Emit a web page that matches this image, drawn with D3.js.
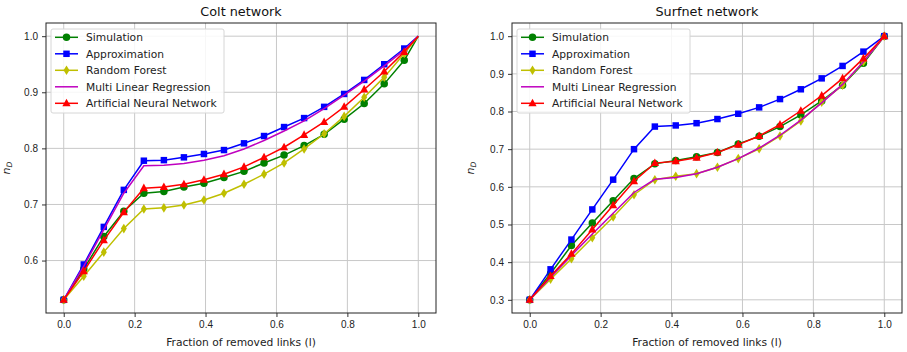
<!DOCTYPE html>
<html>
<head>
<meta charset="utf-8">
<script src="https://cdn.jsdelivr.net/npm/d3@7"></script>
<style>
  body { margin: 0; background: #fff; }
  svg { display: block; font-family: "DejaVu Sans", sans-serif; }
  .tick line { stroke: #333; }
  .tick text { fill: #222; font-size: 10px; }
  .domain { display: none; }
</style>
</head>
<body>
<svg id="chart" width="907" height="352"></svg>
<script>
// Colt network: points every 10 links of 177, last point at 1.0 (no marker)
const coltX = [0, 0.0565, 0.113, 0.1695, 0.226, 0.2825, 0.339, 0.3955, 0.452, 0.5085,
  0.565, 0.6215, 0.678, 0.7345, 0.791, 0.8475, 0.904, 0.9605, 1.0];
const coltSim = [0.53, 0.585, 0.643, 0.688, 0.720, 0.723, 0.731, 0.738, 0.748, 0.759,
  0.774, 0.788, 0.805, 0.825, 0.852, 0.880, 0.915, 0.957, 1.0];
const coltApprox = [0.53, 0.593, 0.660, 0.726, 0.778, 0.779, 0.784, 0.790, 0.797, 0.809,
  0.822, 0.838, 0.854, 0.874, 0.897, 0.922, 0.950, 0.978, 1.0];
const coltRF = [0.53, 0.572, 0.615, 0.657, 0.692, 0.694, 0.699, 0.708, 0.720, 0.736,
  0.754, 0.774, 0.799, 0.826, 0.857, 0.891, 0.927, 0.969, 1.0];
const coltMLR = [0.53, 0.590, 0.655, 0.720, 0.769, 0.770, 0.773, 0.779, 0.787, 0.799,
  0.814, 0.831, 0.849, 0.871, 0.895, 0.920, 0.947, 0.975, 1.0];
const coltANN = [0.53, 0.581, 0.636, 0.686, 0.729, 0.731, 0.736, 0.744, 0.754, 0.767,
  0.784, 0.802, 0.824, 0.847, 0.874, 0.905, 0.937, 0.972, 1.0];

// Surfnet network: k/17
const surfX = [0, 0.0588, 0.1176, 0.1765, 0.2353, 0.2941, 0.3529, 0.4118, 0.4706,
  0.5294, 0.5882, 0.6471, 0.7059, 0.7647, 0.8235, 0.8824, 0.9412, 1.0];
const surfSim = [0.30, 0.370, 0.444, 0.504, 0.563, 0.622, 0.661, 0.670, 0.680,
  0.691, 0.714, 0.734, 0.760, 0.791, 0.828, 0.870, 0.928, 1.0];
const surfApprox = [0.30, 0.381, 0.460, 0.540, 0.619, 0.700, 0.760, 0.763, 0.769,
  0.780, 0.794, 0.811, 0.833, 0.859, 0.888, 0.921, 0.959, 1.0];
const surfRF = [0.30, 0.355, 0.409, 0.465, 0.520, 0.579, 0.619, 0.628, 0.635,
  0.652, 0.675, 0.701, 0.735, 0.775, 0.825, 0.870, 0.932, 1.0];
const surfMLR = [0.30, 0.360, 0.418, 0.475, 0.530, 0.585, 0.620, 0.625, 0.635,
  0.652, 0.675, 0.703, 0.737, 0.777, 0.823, 0.872, 0.932, 1.0];
const surfANN = [0.30, 0.363, 0.422, 0.487, 0.551, 0.615, 0.663, 0.668, 0.677,
  0.691, 0.712, 0.735, 0.765, 0.802, 0.842, 0.888, 0.941, 1.0];

const seriesNames = ['Simulation', 'Approximation', 'Random Forest', 'Multi Linear Regression', 'Artificial Neural Network'];
const seriesColors = ['#008000', '#0000ff', '#bfbf00', '#bf00bf', '#ff0000'];
const seriesMarkers = ['circle', 'square', 'diamond', null, 'triangle'];
const xTicks = [0, 0.2, 0.4, 0.6, 0.8, 1.0];
const coltYTicks = [0.6, 0.7, 0.8, 0.9, 1.0];
const surfYTicks = [0.3, 0.4, 0.5, 0.6, 0.7, 0.8, 0.9, 1.0];

const svg = d3.select('#chart');

const markerPath = type => {
  if (type === 'circle') return d3.symbol(d3.symbolCircle, 44)();
  if (type === 'square') return d3.symbol(d3.symbolSquare, 42)();
  if (type === 'triangle') return 'M0,-4.6L4.1,3L-4.1,3Z';
  if (type === 'diamond') return 'M0,-4.8L3,0L0,4.8L-3,0Z';
  return null;
};

const drawPanel = (opt) => {
  const { left, top, width, height } = opt;
  const g = svg.append('g').attr('transform', `translate(${left},${top})`);

  const x = d3.scaleLinear().domain([-0.05, 1.05]).range([0, width]);
  const yMin = opt.yMin, yMax = 1.0, pad = (yMax - yMin) * 0.05;
  const y = d3.scaleLinear().domain([yMin - pad, yMax + pad]).range([height, 0]);

  // grid
  g.append('g').selectAll('line').data(xTicks).enter().append('line')
    .attr('x1', d => x(d)).attr('x2', d => x(d)).attr('y1', 0).attr('y2', height)
    .attr('stroke', '#c8c8c8').attr('stroke-width', 1);
  g.append('g').selectAll('line').data(opt.yTicks).enter().append('line')
    .attr('y1', d => y(d)).attr('y2', d => y(d)).attr('x1', 0).attr('x2', width)
    .attr('stroke', '#c8c8c8').attr('stroke-width', 1);

  // axes
  g.append('g').attr('transform', `translate(0,${height})`)
    .call(d3.axisBottom(x).tickValues(xTicks).tickSize(4).tickPadding(4).tickFormat(d3.format('.1f')));
  g.append('g')
    .call(d3.axisLeft(y).tickValues(opt.yTicks).tickSize(4).tickPadding(4).tickFormat(d3.format('.1f')));

  // series
  const line = d3.line().x(d => x(d[0])).y(d => y(d[1]));
  opt.series.forEach((vals, i) => {
    const pts = opt.xs.map((xv, j) => [xv, vals[j]]);
    g.append('path').datum(pts)
      .attr('d', line).attr('fill', 'none')
      .attr('stroke', seriesColors[i]).attr('stroke-width', 1.5);
    const mk = markerPath(seriesMarkers[i]);
    if (mk) {
      const mpts = opt.markLast ? pts : pts.slice(0, -1);
      g.append('g').selectAll('path').data(mpts).enter().append('path')
        .attr('d', mk)
        .attr('transform', d => `translate(${x(d[0])},${y(d[1])})`)
        .attr('fill', seriesColors[i]);
    }
  });

  // frame
  g.append('rect').attr('width', width).attr('height', height)
    .attr('fill', 'none').attr('stroke', '#222').attr('stroke-width', 1);

  // title and labels
  g.append('text').attr('x', width / 2).attr('y', -7).attr('text-anchor', 'middle')
    .attr('font-size', '12.8px').attr('fill', '#111').text(opt.title);
  g.append('text').attr('x', width / 2).attr('y', height + 33).attr('text-anchor', 'middle')
    .attr('font-size', '10.7px').attr('fill', '#222').text('Fraction of removed links (l)');
  const yl = g.append('text').attr('transform', `translate(${opt.yLabelX},${height / 2}) rotate(-90)`)
    .attr('text-anchor', 'middle').attr('font-size', '11px').attr('fill', '#222');
  yl.append('tspan').attr('font-style', 'italic').text('n');
  yl.append('tspan').attr('font-style', 'italic').attr('font-size', '7.5px').attr('dy', 2).text('D');

  // legend
  const lg = g.append('g').attr('transform', `translate(${opt.legendX},6)`);
  lg.append('rect').attr('width', 173).attr('height', 84).attr('rx', 2)
    .attr('fill', 'rgba(255,255,255,0.85)').attr('stroke', '#d6d6d6');
  seriesNames.forEach((name, i) => {
    const row = lg.append('g').attr('transform', `translate(0,${8.3 + i * 16.5})`);
    row.append('line').attr('x1', 4).attr('x2', 27).attr('stroke', seriesColors[i]).attr('stroke-width', 1.5);
    const mk = markerPath(seriesMarkers[i]);
    if (mk) row.append('path').attr('d', mk).attr('transform', 'translate(15.5,0)').attr('fill', seriesColors[i]);
    row.append('text').attr('x', 35).attr('y', 3.8).attr('font-size', '10.7px').attr('fill', '#222').text(name);
  });
};

drawPanel({
  left: 46, top: 23, width: 390, height: 290, title: 'Colt network',
  xs: coltX, series: [coltSim, coltApprox, coltRF, coltMLR, coltANN],
  yMin: 0.53, yTicks: coltYTicks, yLabelX: -36, legendX: 5, markLast: false
});
drawPanel({
  left: 512, top: 23, width: 390, height: 290, title: 'Surfnet network',
  xs: surfX, series: [surfSim, surfApprox, surfRF, surfMLR, surfANN],
  yMin: 0.30, yTicks: surfYTicks, yLabelX: -38, legendX: 5, markLast: true
});
</script>
</body>
</html>
